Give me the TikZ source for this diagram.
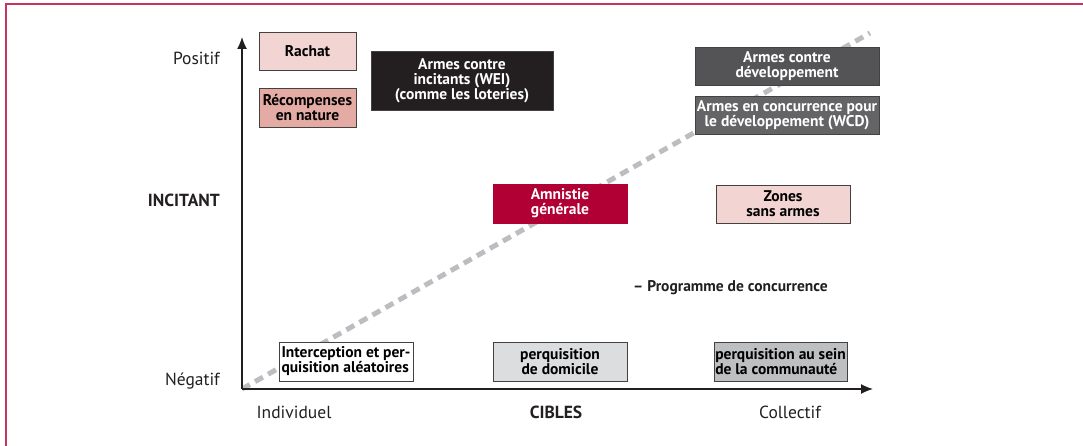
\documentclass[tikz,border=0pt]{standalone}
\usepackage{fontspec}
\setmainfont{PT Sans}
\usetikzlibrary{arrows.meta}
\definecolor{cadre}{HTML}{C8325F}
\definecolor{encre}{HTML}{231F20}
\definecolor{rosepale}{HTML}{F2D4D2}
\definecolor{rosemoyen}{HTML}{E4AAA4}
\definecolor{grisfonce}{HTML}{545456}
\definecolor{grismoyen}{HTML}{646466}
\definecolor{grisclair}{HTML}{DCDDDF}
\definecolor{grisdemi}{HTML}{BEBFC1}
\definecolor{grispointille}{HTML}{BDBDC1}
\definecolor{cramoisi}{HTML}{B00034}
\newcommand{\petit}{\fontsize{15.5}{15}\selectfont}
\newcommand{\grand}{\fontsize{17.5}{18}\selectfont}
\tikzset{
  boite/.style={draw=encre!85, line width=0.8pt, inner sep=0pt, minimum height=39pt,
    align=center, font=\petit\bfseries},
  etiquette/.style={inner sep=0pt, font=\grand, text=encre},
  axe/.style={line width=1.3pt, draw=encre, -{Latex[length=12pt,width=10pt]}}
}

\begin{document}
\begin{tikzpicture}[x=1pt, y=-1pt]
    \useasboundingbox (0,0) rectangle (1083,446);
    \draw[cadre, line width=2pt] (1083,4) -- (6,4) -- (6,446);

    \coordinate (o) at (242,389);
    \coordinate (haut) at (242,37);
    \coordinate (droite) at (873,389);
    \coordinate (fin) at (870,33);

    \draw[grispointille, line width=5pt, dash pattern=on 9pt off 6pt] (o) -- (fin);
    \draw[axe] (o) -- (haut);
    \draw[axe] (o) -- (droite);

    \node[etiquette, anchor=east] (positif) at (220,58) {Positif};
    \node[etiquette, anchor=east, font=\grand\bfseries] (incitant) at (220,200) {INCITANT};
    \node[etiquette, anchor=east] (negatif) at (220,381) {Négatif};
    \node[etiquette] (individuel) at (294,412) {Individuel};
    \node[etiquette, font=\grand\bfseries] (cibles) at (556,412) {CIBLES};
    \node[etiquette] (collectif) at (790,412) {Collectif};
    \node[etiquette, anchor=west, font=\petit\bfseries] (programme) at (633,288) {– Programme de concurrence};

    \node[boite, fill=rosepale, minimum width=97pt, minimum height=38pt] (rachat) at (307.5,51) {Rachat};
    \node[boite, fill=rosemoyen, minimum width=97pt] (recompenses) at (307.5,107.5) {Récompenses\\en nature};
    \node[boite, fill=encre, text=white, minimum width=182pt, minimum height=59pt] (wei) at (462,80.5) {Armes contre\\incitants (WEI)\\(comme les loteries)};
    \node[boite, fill=grisfonce, text=white, minimum width=184pt, minimum height=38pt] (developpement) at (787,66) {Armes contre\\développement};
    \node[boite, fill=grismoyen, text=white, minimum width=184pt, minimum height=38pt] (wcd) at (787,115) {Armes en concurrence pour\\le développement (WCD)};
    \node[boite, fill=cramoisi, draw=cramoisi, text=white, minimum width=134pt] (amnistie) at (560,203.5) {Amnistie\\générale};
    \node[boite, fill=rosepale, minimum width=134pt, minimum height=38pt] (zones) at (783,204) {Zones\\sans armes};
    \node[boite, fill=white, align=left, minimum width=134pt] (interception) at (346,361.5) {Interception et per-\\quisition aléatoires};
    \node[boite, fill=grisclair, minimum width=134pt] (domicile) at (560,361.5) {perquisition\\de domicile};
    \node[boite, fill=grisdemi, align=left, minimum width=133pt] (communaute) at (780.5,361.5) {perquisition au sein\\de la communauté};
\end{tikzpicture}
\end{document}
